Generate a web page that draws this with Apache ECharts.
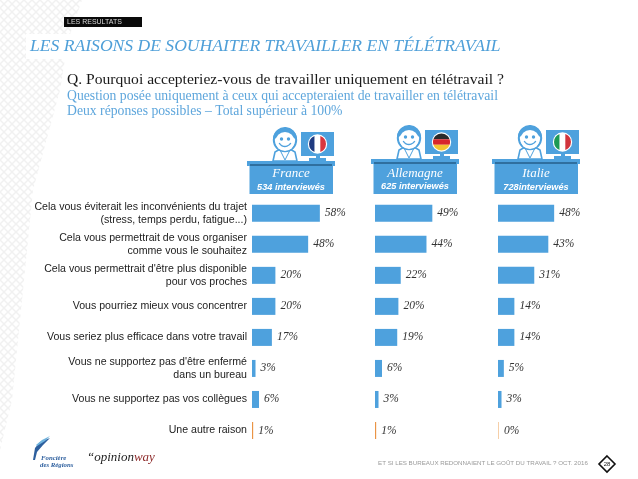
<!DOCTYPE html>
<html>
<head>
<meta charset="utf-8">
<style>html,body{margin:0;padding:0;background:#fff}#chart{width:638px;height:479px}</style>
<script src="https://cdn.jsdelivr.net/npm/echarts@6/dist/echarts.min.js"></script>
</head>
<body>
<div id="chart"></div>
<script>
const categories = [
  "Cela vous éviterait les inconvénients du trajet\n(stress, temps perdu, fatigue...)",
  "Cela vous permettrait de vous organiser\ncomme vous le souhaitez",
  "Cela vous permettrait d'être plus disponible\npour vos proches",
  "Vous pourriez mieux vous concentrer",
  "Vous seriez plus efficace dans votre travail",
  "Vous ne supportez pas d'être enfermé\ndans un bureau",
  "Vous ne supportez pas vos collègues",
  "Une autre raison"
];
const france = [58, 48, 20, 20, 17, 3, 6, 1];
const allemagne = [49, 44, 22, 20, 19, 6, 3, 1];
const italie = [48, 43, 31, 14, 14, 5, 3, 0];
const countries = ["France", "Allemagne", "Italie"];
const interviews = ["534 interviewés", "625 interviewés", "728interviewés"];

const BLUE = "#4ea1dd";
const DARK = "#2f6f9f";
const serif = "'Liberation Serif', serif";
const sans = "'Liberation Sans', sans-serif";

const chart = echarts.init(document.getElementById("chart"));

const gridLefts = [252, 375, 498];
const seriesData = [france, allemagne, italie];

// faint diamond pattern in the top left corner
const tile = document.createElement("canvas");
tile.width = 8; tile.height = 8;
const tc = tile.getContext("2d");
tc.strokeStyle = "#f1f1f1";
tc.lineWidth = 1.5;
tc.beginPath();
tc.moveTo(0, 0); tc.lineTo(8, 8);
tc.moveTo(8, 0); tc.lineTo(0, 8);
tc.stroke();

function barColor(cat, val) {
  if (cat < 7) return BLUE;
  return val === 0 ? "#f6cfa8" : "#ea9445";
}

function avatar(x, y, paintFlag) {
  // x,y = left of desk top, y of desk top
  const parts = [
    // body
    { type: "polygon", shape: { points: [[x + 26, y], [x + 28, y - 9], [x + 33, y - 12], [x + 43, y - 12], [x + 48, y - 9], [x + 50, y]] }, style: { fill: "#fff", stroke: BLUE, lineWidth: 1.6 } },
    { type: "polyline", shape: { points: [[x + 33, y - 11], [x + 38, y - 1], [x + 43, y - 11]] }, style: { fill: "none", stroke: BLUE, lineWidth: 1 } },
    // head, hair, face
    { type: "circle", shape: { cx: x + 38, cy: y - 21, r: 11.2 }, style: { fill: "#fff", stroke: BLUE, lineWidth: 2 } },
    { type: "sector", shape: { cx: x + 38, cy: y - 22, r: 12, r0: 0, startAngle: Math.PI * 1.02, endAngle: Math.PI * 1.98 }, style: { fill: BLUE } },
    { type: "circle", shape: { cx: x + 38, cy: y - 19.5, r: 9.5 }, style: { fill: "#fff" } },
    { type: "circle", shape: { cx: x + 34.5, cy: y - 22, r: 1.7 }, style: { fill: BLUE } },
    { type: "circle", shape: { cx: x + 41.5, cy: y - 22, r: 1.7 }, style: { fill: BLUE } },
    { type: "arc", shape: { cx: x + 38, cy: y - 21, r: 6.5, startAngle: Math.PI * 0.15, endAngle: Math.PI * 0.85 }, style: { fill: "none", stroke: BLUE, lineWidth: 1.4 } },
    // screen and stand
    { type: "rect", shape: { x: x + 54, y: y - 29, width: 33, height: 24 }, style: { fill: BLUE } },
    { type: "rect", shape: { x: x + 69, y: y - 5, width: 4, height: 3 }, style: { fill: BLUE } },
    { type: "rect", shape: { x: x + 62, y: y - 3, width: 17, height: 3 }, style: { fill: BLUE } },
    // desk
    { type: "rect", shape: { x: x, y: y, width: 88, height: 5 }, style: { fill: BLUE } },
    { type: "rect", shape: { x: x + 3, y: y + 3, width: 82, height: 2.5 }, style: { fill: DARK } }
  ];
  return parts.concat(paintFlag(x + 70.5, y - 17));
}

function circleFlag(cx, cy, cols, vertical) {
  const r = 8.5;
  const out = [{ type: "circle", shape: { cx, cy, r: r + 1.2 }, style: { fill: "#fff" } }];
  cols.forEach((c, i) => {
    const a = -r + (2 * r * i) / 3;
    const b = a + (2 * r) / 3;
    // one band of the disc
    const pts = [];
    for (let k = 0; k <= 12; k++) {
      const t = a + ((b - a) * k) / 12;
      const h = Math.sqrt(Math.max(0, r * r - t * t));
      pts.push(vertical ? [cx + t, cy - h] : [cx - h, cy + t]);
    }
    for (let k = 12; k >= 0; k--) {
      const t = a + ((b - a) * k) / 12;
      const h = Math.sqrt(Math.max(0, r * r - t * t));
      pts.push(vertical ? [cx + t, cy + h] : [cx + h, cy + t]);
    }
    out.push({ type: "polygon", shape: { points: pts }, style: { fill: c } });
  });
  return out;
}

const flags = [
  (cx, cy) => circleFlag(cx, cy, ["#1f3a80", "#ffffff", "#d8363e"], true),
  (cx, cy) => circleFlag(cx, cy, ["#2a2a2a", "#d8262c", "#f4c430"], false),
  (cx, cy) => circleFlag(cx, cy, ["#1c9a55", "#ffffff", "#d0343c"], true)
];

const deskX = [247, 371, 492];
const deskY = [161, 159, 159];
const subY = [187, 186, 187];

const graphics = [
  { type: "polygon", shape: { points: [[0, 0], [82, 0], [68, 40], [60, 90], [33, 190], [20, 320], [12, 400], [0, 450]] }, style: { fill: { image: tile, repeat: "repeat" } } },
  { type: "rect", shape: { x: 26, y: 34, width: 60, height: 25 }, style: { fill: "#fff" } },
  { type: "rect", shape: { x: 64, y: 17, width: 78, height: 10 }, style: { fill: "#0a0a0a" } },
  { type: "text", x: 67, y: 22.5, style: { text: "LES RESULTATS", fill: "#d8d8d8", font: "7px " + sans, verticalAlign: "middle" } },
  { type: "text", x: 30, y: 46, style: { text: "LES RAISONS DE SOUHAITER TRAVAILLER EN TÉLÉTRAVAIL", fill: "#4e9fd8", font: "italic 17.6px " + serif, verticalAlign: "middle" } },
  { type: "text", x: 67, y: 80, style: { text: "Q. Pourquoi accepteriez-vous de travailler uniquement en télétravail ?", fill: "#1a1a1a", font: "15.6px " + serif, verticalAlign: "middle" } },
  { type: "text", x: 67, y: 96, style: { text: "Question posée uniquement à ceux qui accepteraient de travailler en télétravail", fill: "#5ea6dc", font: "13.7px " + serif, verticalAlign: "middle" } },
  { type: "text", x: 67, y: 111, style: { text: "Deux réponses possibles – Total supérieur à 100%", fill: "#5ea6dc", font: "13.7px " + serif, verticalAlign: "middle" } },
  { type: "text", x: 378, y: 463, style: { text: "ET SI LES BUREAUX REDONNAIENT LE GOÛT DU TRAVAIL ? OCT. 2016", fill: "#9a9a9a", font: "6.2px " + sans, verticalAlign: "middle" } },
  { type: "polygon", shape: { points: [[607, 456], [615, 464], [607, 472], [599, 464]] }, style: { fill: "#fff", stroke: "#111", lineWidth: 1.6 } },
  { type: "text", x: 607, y: 464, style: { text: "28", fill: "#222", font: "6px " + sans, align: "center", verticalAlign: "middle" } },
  // logos
  { type: "polygon", shape: { points: [[33, 460], [35, 448], [40, 442], [50, 438], [43, 445], [37, 452], [35, 460]] }, style: { fill: "#2d5f9e" } },
  { type: "polygon", shape: { points: [[36, 445], [42, 440], [50, 436], [45, 441], [37, 446]] }, style: { fill: "#6fb3dd" } },
  { type: "text", x: 41, y: 458, style: { text: "Foncière", fill: "#2d5f9e", font: "italic bold 6.8px " + serif, verticalAlign: "middle" } },
  { type: "text", x: 40, y: 465, style: { text: "des Régions", fill: "#2d5f9e", font: "italic bold 6.8px " + serif, verticalAlign: "middle" } },
  { type: "text", x: 87, y: 458, style: { rich: { a: { fill: "#222", font: "italic 13px " + serif }, b: { fill: "#8e2a2a", font: "italic 13px " + serif } }, text: "{a|“opinion}{b|way}", verticalAlign: "middle" } }
];

countries.forEach((name, i) => {
  const x = deskX[i], y = deskY[i];
  graphics.push(...avatar(x, y, flags[i]));
  graphics.push({ type: "rect", shape: { x: x + 2.5, y: y + 5, width: 83.5, height: 194 - y - 5 }, style: { fill: BLUE } });
  graphics.push({ type: "text", x: x + 44, y: 174, style: { text: name, fill: "#fff", font: "italic 13px " + serif, align: "center", verticalAlign: "middle" } });
  graphics.push({ type: "text", x: x + 44, y: subY[i], style: { text: interviews[i], fill: "#fff", font: "italic bold 9.2px " + sans, align: "center", verticalAlign: "middle" } });
});

chart.setOption({
  animation: false,
  backgroundColor: "#fff",
  graphic: { elements: graphics },
  grid: gridLefts.map((left) => ({ left, top: 197.8, width: 117, height: 248.2 })),
  xAxis: gridLefts.map((_, i) => ({ gridIndex: i, type: "value", min: 0, max: 100, show: false })),
  yAxis: gridLefts.map((_, i) => ({
    gridIndex: i,
    type: "category",
    inverse: true,
    data: categories,
    axisLine: { show: false },
    axisTick: { show: false },
    axisLabel: i === 0
      ? { show: true, color: "#222", fontFamily: "'Liberation Sans', sans-serif", fontSize: 10.6, lineHeight: 13.3, align: "right", margin: 5, interval: 0 }
      : { show: false }
  })),
  series: seriesData.map((vals, i) => ({
    type: "bar",
    xAxisIndex: i,
    yAxisIndex: i,
    barWidth: 17,
    barMinHeight: 1,
    data: vals.map((v, c) => ({ value: v, itemStyle: { color: barColor(c, v) } })),
    label: {
      show: true,
      position: "right",
      distance: 5,
      formatter: "{c}%",
      color: "#333",
      fontFamily: "'Liberation Serif', serif",
      fontStyle: "italic",
      fontSize: 11.5
    }
  }))
});
</script>
</body>
</html>
